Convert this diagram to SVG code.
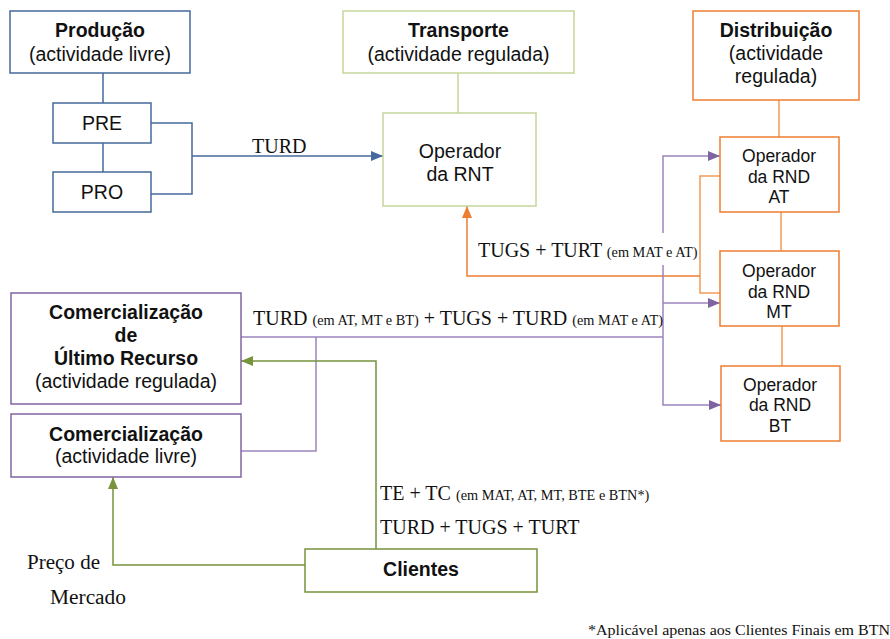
<svg xmlns="http://www.w3.org/2000/svg" width="890" height="639" viewBox="0 0 890 639">
<style>
.box{fill:#fff;stroke-width:1.5}
.blue{stroke:#44699a}
.lg{stroke:#c3d69b}
.or{stroke:#ed7d31}
.pu{stroke:#8064a2}
.gr{stroke:#77933c}
.s{font-family:"Liberation Sans",Arial,sans-serif;fill:#111;text-anchor:middle}
.b{font-weight:bold}
.r{font-family:"Liberation Serif","Times New Roman",serif;fill:#111}
.sm{font-size:14.3px}
.c{fill:none;stroke-width:1.5}
</style>
<defs>
<marker id="ab" markerUnits="userSpaceOnUse" markerWidth="12" markerHeight="10" refX="12" refY="5" orient="auto"><path d="M0,0 L12,5 L0,10 z" fill="#44699a"/></marker>
<marker id="ao" markerUnits="userSpaceOnUse" markerWidth="12" markerHeight="10" refX="12" refY="5" orient="auto"><path d="M0,0 L12,5 L0,10 z" fill="#ed7d31"/></marker>
<marker id="ap" markerUnits="userSpaceOnUse" markerWidth="12" markerHeight="10" refX="12" refY="5" orient="auto"><path d="M0,0 L12,5 L0,10 z" fill="#8064a2"/></marker>
<marker id="ag" markerUnits="userSpaceOnUse" markerWidth="12" markerHeight="10" refX="12" refY="5" orient="auto"><path d="M0,0 L12,5 L0,10 z" fill="#77933c"/></marker>
</defs>
<rect width="890" height="639" fill="#fff"/>

<g id="connectors">
<path class="c blue" d="M103,73 V103 M103,143 V172 M151,123 H192 V194 H151"/>
<path class="c blue" d="M192,156 H383" marker-end="url(#ab)"/>
<path class="c lg" d="M458,73 V113"/>
<path class="c" stroke="#f19a55" d="M779,100 V137 M781,212 V251 M782,326 V366 M720,176 H700 V293 H721"/>
<path class="c or" d="M700,276 H467 V206" marker-end="url(#ao)"/>
<path class="c" stroke="#9a85bd" d="M663,233 V156 H720" marker-end="url(#ap)"/>
<path class="c" stroke="#9a85bd" d="M663,265 V405 H721" marker-end="url(#ap)"/>
<path class="c" stroke="#9a85bd" d="M663,303 H720" marker-end="url(#ap)"/>
<path class="c" stroke="#9a85bd" d="M663,337 H241 M241,451 H316 V337"/>
<path class="c gr" d="M376,549 V361 H241" marker-end="url(#ag)"/>
<path class="c gr" d="M305,565 H113 V477" marker-end="url(#ag)"/>
</g>

<g id="producao"><rect class="box blue" x="10" y="11" width="180" height="62"/>
<text class="s b" x="100" y="37" font-size="19.5">Produção</text>
<text class="s" x="100" y="61" font-size="19.5">(actividade livre)</text></g>

<g id="pre"><rect class="box blue" x="53" y="103" width="98" height="40"/>
<text class="s" x="102" y="130" font-size="19.5">PRE</text></g>
<g id="pro"><rect class="box blue" x="53" y="172" width="98" height="40"/>
<text class="s" x="102" y="199" font-size="19.5">PRO</text></g>

<g id="transporte"><rect class="box lg" x="343" y="11" width="231" height="62"/>
<text class="s b" x="458.5" y="37" font-size="19.5">Transporte</text>
<text class="s" x="458.5" y="61" font-size="19.5">(actividade regulada)</text></g>

<g id="rnt"><rect class="box lg" x="383" y="113" width="153" height="93"/>
<text class="s" x="460" y="158" font-size="19.5">Operador</text>
<text class="s" x="460" y="181" font-size="19.5">da RNT</text></g>

<g id="distribuicao"><rect class="box or" x="693" y="11" width="166" height="89"/>
<text class="s b" x="776" y="37" font-size="19.5">Distribuição</text>
<text class="s" x="776" y="60" font-size="19.5">(actividade</text>
<text class="s" x="776" y="83" font-size="19.5">regulada)</text></g>

<g id="rnd-at"><rect class="box or" x="720" y="137" width="119" height="75"/>
<text class="s" x="779" y="162" font-size="17.5">Operador</text>
<text class="s" x="779" y="183" font-size="17.5">da RND</text>
<text class="s" x="779" y="203" font-size="17.5">AT</text></g>

<g id="rnd-mt"><rect class="box or" x="720" y="251" width="119" height="75"/>
<text class="s" x="779" y="277" font-size="17.5">Operador</text>
<text class="s" x="779" y="298" font-size="17.5">da RND</text>
<text class="s" x="779" y="318" font-size="17.5">MT</text></g>

<g id="rnd-bt"><rect class="box or" x="721" y="366" width="119" height="75"/>
<text class="s" x="780" y="391" font-size="17.5">Operador</text>
<text class="s" x="780" y="411" font-size="17.5">da RND</text>
<text class="s" x="780" y="432" font-size="17.5">BT</text></g>

<g id="cur"><rect class="box pu" x="11" y="293" width="230" height="111"/>
<text class="s b" x="126" y="319" font-size="19.5">Comercialização</text>
<text class="s b" x="126" y="342" font-size="19.5">de</text>
<text class="s b" x="126" y="365" font-size="19.5">Último Recurso</text>
<text class="s" x="126" y="388" font-size="19.5">(actividade regulada)</text></g>

<g id="com-livre"><rect class="box pu" x="11" y="414" width="230" height="63"/>
<text class="s b" x="126" y="441" font-size="19.5">Comercialização</text>
<text class="s" x="126" y="463" font-size="19.5">(actividade livre)</text></g>

<g id="clientes"><rect class="box gr" x="305" y="549" width="232" height="43"/>
<text class="s b" x="421" y="576" font-size="19.5">Clientes</text></g>

<g id="labels">
<text class="r" x="252" y="153" font-size="20">TURD</text>
<text class="r" x="478" y="257" font-size="20">TUGS + TURT <tspan class="sm">(em MAT e AT)</tspan></text>
<text class="r" x="253" y="325" font-size="20">TURD <tspan class="sm">(em AT, MT e BT)</tspan> + TUGS + TURD <tspan class="sm">(em MAT e AT)</tspan></text>
<text class="r" x="380" y="500" font-size="20">TE + TC <tspan class="sm">(em MAT, AT, MT, BTE e BTN*)</tspan></text>
<text class="r" x="380" y="534" font-size="20">TURD + TUGS + TURT</text>
<text class="r" x="27" y="569" font-size="20" textLength="73" lengthAdjust="spacingAndGlyphs">Preço de</text>
<text class="r" x="50" y="604" font-size="20" textLength="76" lengthAdjust="spacingAndGlyphs">Mercado</text>
<text class="r" x="588" y="635" font-size="15" textLength="302" lengthAdjust="spacingAndGlyphs">*Aplicável apenas aos Clientes Finais em BTN</text>
</g>
</svg>
